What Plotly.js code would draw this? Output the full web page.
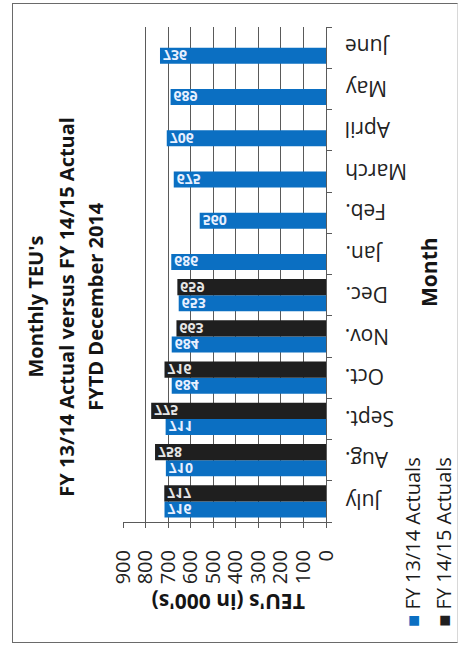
<!DOCTYPE html>
<html>
<head>
<meta charset="utf-8">
<script src="https://cdn.plot.ly/plotly-3.0.1.min.js"></script>
<style>
  html, body { margin: 0; padding: 0; background: #fff; }
  #wrap { position: relative; width: 458px; height: 645px; }
  #chart { position: absolute; left: 0; top: 0; width: 458px; height: 645px; }
  #frame { position: absolute; left: 12px; top: 3px; width: 444px; height: 638px;
           border: 1.5px solid #6a6a6a; border-right-color: #d8d8d8; pointer-events: none; }
</style>
</head>
<body>
<div id="wrap">
  <div id="chart"></div>
  <div id="frame"></div>
</div>
<script>
// Fiscal-year months, July through June
const months = ["July", "Aug.", "Sept.", "Oct.", "Nov.", "Dec.", "Jan.", "Feb.", "March", "April", "May", "June"];
// Monthly TEU's (in 000's)
const fy1314 = [716, 710, 711, 684, 684, 653, 686, 560, 675, 706, 689, 736];
const fy1415 = [717, 758, 775, 716, 663, 659, null, null, null, null, null, null];
const seriesNames = ["FY 13/14 Actuals", "FY 14/15 Actuals"];
const valueTicks = [0, 100, 200, 300, 400, 500, 600, 700, 800, 900];

const BLUE = "#0b6fc2";
const BLACK = "#1f1f1f";
const FONT = "Open Sans, sans-serif";

function barTrace(name, values, color, labelColor) {
  return {
    type: "bar",
    orientation: "h",
    name: name,
    y: months,
    x: values,
    marker: { color: color, line: { width: 0 } },
    texttemplate: "%{x}",
    textposition: "inside",
    insidetextanchor: "end",
    textangle: 0,
    constraintext: "none",
    textfont: { family: FONT, size: 14, color: labelColor, weight: 700 },
    hoverinfo: "skip",
    showlegend: false
  };
}

const data = [
  barTrace(seriesNames[0], fy1314, BLUE, "#e8f0ff"),
  barTrace(seriesNames[1], fy1415, BLACK, "#e6e6e6")
];

const titleLines = ["Monthly TEU's", "FY 13/14 Actual versus FY 14/15 Actual", "FYTD December 2014"];
const titleX = [-0.429, -0.276, -0.133];

const annotations = titleLines.map((t, i) => ({
  xref: "paper", yref: "paper", x: titleX[i], y: 0.435,
  xanchor: "center", yanchor: "middle", textangle: -90, showarrow: false,
  text: "<b>" + t + "</b>",
  font: { family: FONT, size: 20, color: "#151515" }
}));

// Month labels beside the category axis, printed upside down
months.forEach(m => {
  annotations.push({
    xref: "paper", yref: "y", x: 1.084, y: m,
    xanchor: "left", yanchor: "middle", textangle: 180, showarrow: false,
    text: m,
    font: { family: FONT, size: 21, color: "#222" }
  });
});

annotations.push({
  xref: "paper", yref: "paper", x: 0.517, y: -0.162,
  xanchor: "center", yanchor: "middle", textangle: 180, showarrow: false,
  text: "<b>TEU's (in 000's)</b>",
  font: { family: FONT, size: 21, color: "#151515" }
});
annotations.push({
  xref: "paper", yref: "paper", x: 1.507, y: 0.505,
  xanchor: "center", yanchor: "middle", textangle: -90, showarrow: false,
  text: "<b>Month</b>",
  font: { family: FONT, size: 21, color: "#151515" }
});
// Legend entries, drawn vertically
[[seriesNames[0], BLUE, 1.429], [seriesNames[1], BLACK, 1.581]].forEach(([name, color, x]) => {
  annotations.push({
    xref: "paper", yref: "paper", x: x, y: -0.04,
    xanchor: "center", yanchor: "middle", textangle: -90, showarrow: false,
    text: "<span style='color:" + color + "'>■</span> " + name,
    font: { family: FONT, size: 20, color: "#1a1a1a" }
  });
});

const layout = {
  width: 458, height: 645,
  margin: { l: 123, r: 132, t: 27, b: 123, pad: 0 },
  paper_bgcolor: "#ffffff",
  plot_bgcolor: "#ffffff",
  barmode: "group",
  bargap: 0.22,
  bargroupgap: 0,
  showlegend: false,
  font: { family: FONT, color: "#222" },
  xaxis: {
    range: [900, 0],
    tickmode: "array",
    tickvals: valueTicks,
    ticktext: valueTicks.map(String),
    showgrid: true, gridcolor: "#5a5a5a", gridwidth: 1,
    zeroline: false,
    showline: true, linecolor: "#5a5a5a", linewidth: 1,
    ticks: "outside", ticklen: 5, tickcolor: "#5a5a5a",
    tickangle: -90,
    ticklabelstandoff: 14,
    tickfont: { family: FONT, size: 20, color: "#222" },
    fixedrange: true
  },
  yaxis: {
    type: "category",
    categoryorder: "array",
    categoryarray: months,
    side: "right",
    showgrid: false,
    zeroline: false,
    showline: true, linecolor: "#5a5a5a", linewidth: 1,
    ticks: "outside", tickson: "boundaries", ticklen: 5, tickcolor: "#5a5a5a",
    showticklabels: false,
    fixedrange: true
  },
  annotations: annotations
};

Plotly.newPlot("chart", data, layout, { staticPlot: true, displayModeBar: false }).then(gd => {
  // value labels are printed mirrored top-to-bottom inside the bars
  gd.querySelectorAll("text.bartext").forEach(el => {
    const b = el.getBBox();
    const cy = b.y + b.height / 2;
    const t = el.getAttribute("transform") || "";
    el.setAttribute("transform", t + " translate(0," + (2 * cy) + ") scale(1,-1)");
  });
});
</script>
</body>
</html>
